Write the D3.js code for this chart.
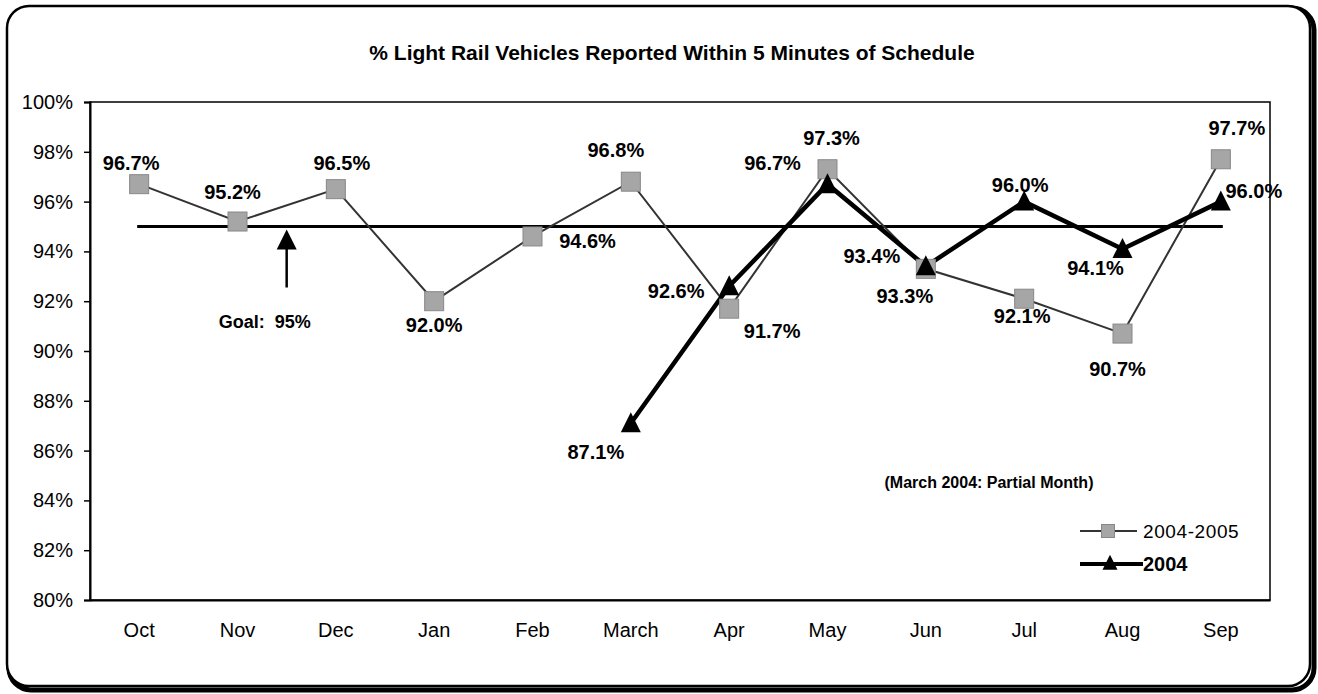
<!DOCTYPE html>
<html>
<head>
<meta charset="utf-8">
<script src="https://cdn.jsdelivr.net/npm/d3@7"></script>
<style>
  body { margin: 0; background: #fff; }
  text { font-family: "Liberation Sans", Arial, sans-serif; }
</style>
</head>
<body>
<div id="chart"></div>
<script>
// chart data
var months = ["Oct", "Nov", "Dec", "Jan", "Feb", "March", "Apr", "May", "Jun", "Jul", "Aug", "Sep"];
var values0405 = [96.7, 95.2, 96.5, 92.0, 94.6, 96.8, 91.7, 97.3, 93.3, 92.1, 90.7, 97.7];
var months2004 = ["March", "Apr", "May", "Jun", "Jul", "Aug", "Sep"];
var values2004 = [87.1, 92.6, 96.7, 93.4, 96.0, 94.1, 96.0];
var yTicks = [80, 82, 84, 86, 88, 90, 92, 94, 96, 98, 100];
var goal = 95;
var seriesNames = ["2004-2005", "2004"];

// label placement (pixels, relative to the marker)
var offsets0405 = [[-8, -14], [-5, -23], [6, -19], [0, 31], [55, 12], [-15, -25],
                   [43, 29], [4, -24], [-21, 34], [-2, 24], [-5, 42], [16, -24]];
var offsets2004 = [[-35, 36], [-53, 12], [-55, -14], [-54, -3], [-4, -10], [-27, 26], [33, -4]];

var svgWidth = 1318;
var svgHeight = 694;

var margin = {
    top: 102,
    right: 48,
    bottom: 94,
    left: 90
};

var width = svgWidth - margin.left - margin.right;
var height = svgHeight - margin.top - margin.bottom;

var svg = d3.select("#chart")
    .append("svg")
    .attr("width", svgWidth)
    .attr("height", svgHeight);

// outer rounded frame, heavier on right/bottom
svg.append("rect")
    .attr("x", 9).attr("y", 8)
    .attr("width", 1305).attr("height", 682)
    .attr("rx", 22)
    .attr("fill", "none")
    .attr("stroke", "#000")
    .attr("stroke-width", 5);
svg.append("rect")
    .attr("x", 7).attr("y", 6)
    .attr("width", 1303).attr("height", 680)
    .attr("rx", 22)
    .attr("fill", "#fff")
    .attr("stroke", "#000")
    .attr("stroke-width", 2.5);

var chartGroup = svg.append("g")
    .attr("transform", `translate(${margin.left},${margin.top})`);

var xScale = d3.scaleBand()
    .domain(months)
    .range([0, width])
    .padding(0);

var yScale = d3.scaleLinear()
    .domain([80, 100])
    .range([height, 0]);

var cx = d => xScale(d) + xScale.bandwidth() / 2;

// title
svg.append("text")
    .attr("x", 672)
    .attr("y", 60)
    .attr("text-anchor", "middle")
    .attr("font-size", "21px")
    .attr("font-weight", "bold")
    .text("% Light Rail Vehicles Reported Within 5 Minutes of Schedule");

// plot frame
chartGroup.append("rect")
    .attr("width", width)
    .attr("height", height)
    .attr("fill", "none")
    .attr("stroke", "#000")
    .attr("stroke-width", 1.5);

// axes
var leftAxis = d3.axisLeft(yScale)
    .tickValues(yTicks)
    .tickSize(6)
    .tickFormat(d => d + "%");
var yAxisG = chartGroup.append("g").call(leftAxis);
yAxisG.select(".domain").attr("stroke-width", 2);
yAxisG.selectAll("line").attr("stroke-width", 1.5);
yAxisG.selectAll("text")
    .attr("x", -17)
    .attr("font-size", "20px")
    .attr("font-family", "Liberation Sans, Arial, sans-serif")
    .attr("fill", "#000");

var bottomAxis = d3.axisBottom(xScale).tickSize(0).tickPadding(23);
var xAxisG = chartGroup.append("g")
    .attr("transform", `translate(0, ${height})`)
    .call(bottomAxis);
xAxisG.select(".domain").attr("stroke-width", 2);
xAxisG.selectAll("text")
    .attr("font-size", "20px")
    .attr("font-family", "Liberation Sans, Arial, sans-serif")
    .attr("fill", "#000");

// goal line
chartGroup.append("line")
    .attr("x1", cx(months[0]) - 2)
    .attr("x2", cx(months[months.length - 1]) + 2)
    .attr("y1", yScale(goal))
    .attr("y2", yScale(goal))
    .attr("stroke", "#000")
    .attr("stroke-width", 3);

// goal arrow between Nov and Dec
var arrowX = (cx("Nov") + cx("Dec")) / 2;
var arrowTop = yScale(goal) + 3;
chartGroup.append("line")
    .attr("x1", arrowX).attr("x2", arrowX)
    .attr("y1", arrowTop + 15).attr("y2", arrowTop + 58)
    .attr("stroke", "#000")
    .attr("stroke-width", 2.5);
chartGroup.append("path")
    .attr("d", `M${arrowX},${arrowTop} L${arrowX + 10},${arrowTop + 20} L${arrowX - 10},${arrowTop + 20} Z`)
    .attr("fill", "#000");
chartGroup.append("text")
    .attr("x", arrowX - 22)
    .attr("y", arrowTop + 98)
    .attr("text-anchor", "middle")
    .attr("font-size", "18px")
    .attr("font-weight", "bold")
    .attr("xml:space", "preserve")
    .style("white-space", "pre")
    .text("Goal:  " + goal + "%");

var data0405 = months.map((m, i) => ({ month: m, value: values0405[i], off: offsets0405[i] }));
var data2004 = months2004.map((m, i) => ({ month: m, value: values2004[i], off: offsets2004[i] }));

var lineGen = d3.line()
    .x(d => cx(d.month))
    .y(d => yScale(d.value));

// 2004-2005 series
chartGroup.append("path")
    .datum(data0405)
    .attr("d", lineGen)
    .attr("fill", "none")
    .attr("stroke", "#333")
    .attr("stroke-width", 2);

// 2004 series
chartGroup.append("path")
    .datum(data2004)
    .attr("d", lineGen)
    .attr("fill", "none")
    .attr("stroke", "#000")
    .attr("stroke-width", 4.5);

function drawSquare(g, x, y, s) {
    g.append("rect")
        .attr("x", x - s / 2).attr("y", y - s / 2)
        .attr("width", s).attr("height", s)
        .attr("fill", "#a6a6a6")
        .attr("stroke", "#888")
        .attr("stroke-width", 1);
}
function drawTriangle(g, x, y, s) {
    g.append("path")
        .attr("d", `M${x},${y - s * 0.55} L${x + s / 2},${y + s * 0.45} L${x - s / 2},${y + s * 0.45} Z`)
        .attr("fill", "#000");
}

data0405.forEach(d => drawSquare(chartGroup, cx(d.month), yScale(d.value), 19));
data2004.forEach(d => drawTriangle(chartGroup, cx(d.month), yScale(d.value), 20));

// value labels
chartGroup.selectAll(".lbl0405")
    .data(data0405)
    .enter()
    .append("text")
    .attr("x", d => cx(d.month) + d.off[0])
    .attr("y", d => yScale(d.value) + d.off[1])
    .attr("text-anchor", "middle")
    .attr("font-size", "20px")
    .attr("font-weight", "bold")
    .text(d => d.value.toFixed(1) + "%");

chartGroup.selectAll(".lbl2004")
    .data(data2004)
    .enter()
    .append("text")
    .attr("x", d => cx(d.month) + d.off[0])
    .attr("y", d => yScale(d.value) + d.off[1])
    .attr("text-anchor", "middle")
    .attr("font-size", "20px")
    .attr("font-weight", "bold")
    .text(d => d.value.toFixed(1) + "%");

// note
svg.append("text")
    .attr("x", 989)
    .attr("y", 488)
    .attr("text-anchor", "middle")
    .attr("font-size", "16px")
    .attr("font-weight", "bold")
    .text("(March 2004: Partial Month)");

// legend
var legend = svg.append("g");
legend.append("line")
    .attr("x1", 1080).attr("x2", 1137)
    .attr("y1", 531).attr("y2", 531)
    .attr("stroke", "#333").attr("stroke-width", 2);
drawSquare(legend, 1108, 531, 13);
legend.append("text")
    .attr("x", 1143).attr("y", 538)
    .attr("font-size", "19px")
    .attr("font-family", "DejaVu Sans, sans-serif")
    .attr("letter-spacing", "0.6px")
    .text(seriesNames[0]);

legend.append("line")
    .attr("x1", 1080).attr("x2", 1143)
    .attr("y1", 564).attr("y2", 564)
    .attr("stroke", "#000").attr("stroke-width", 4);
drawTriangle(legend, 1110, 563, 15);
legend.append("text")
    .attr("x", 1143).attr("y", 571)
    .attr("font-size", "20px")
    .attr("font-weight", "bold")
    .text(seriesNames[1]);
</script>
</body>
</html>
